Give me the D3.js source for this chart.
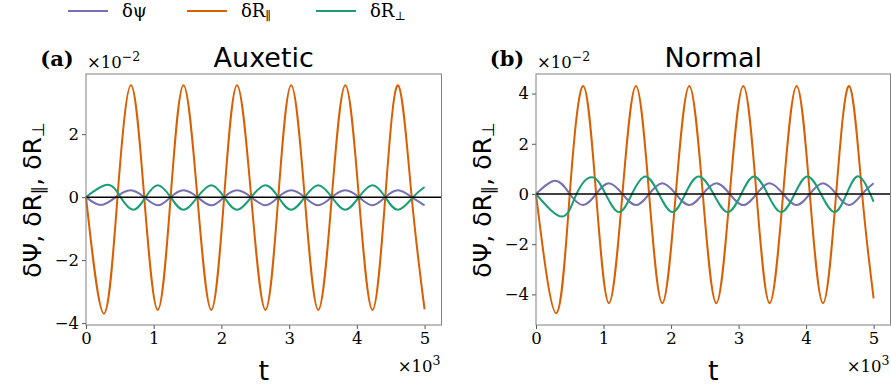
<!DOCTYPE html>
<html>
<head>
<meta charset="utf-8">
<script src="https://cdn.jsdelivr.net/npm/d3@7"></script>
<style>
  body { margin: 0; background: #fff; }
  svg { display: block; }
  .tick text { font-family: "DejaVu Serif", serif; font-size: 16.5px; fill: #000; }
  .domain { display: none; }
  .tick line { stroke: #555; }
</style>
</head>
<body>
<div id="chart"></div>
<script>
// key points (t in 10^3, values in 10^-2)
var seriesNames = ["δψ", "δR∥", "δR⊥"];
var seriesColors = ["#7570b3", "#d95f02", "#1b9e77"];

// panel (a) Auxetic
var tA = [0, 0.265, 0.465, 0.665, 0.86, 1.06, 1.25, 1.44, 1.645, 1.85, 2.04, 2.23, 2.44, 2.65, 2.84, 3.03, 3.23, 3.43, 3.63, 3.83, 4.03, 4.23, 4.42, 4.61, 4.81, 5.0];
var orangeA = [0, -3.70, 0, 3.55, 0, -3.58, 0, 3.55, 0, -3.58, 0, 3.55, 0, -3.58, 0, 3.55, 0, -3.58, 0, 3.55, 0, -3.58, 0, 3.55, 0, -3.56];
var tPsiA = [0, 0.22, 0.44, 0.655, 0.86, 1.06, 1.25, 1.44, 1.645, 1.85, 2.04, 2.23, 2.44, 2.65, 2.84, 3.03, 3.23, 3.43, 3.63, 3.83, 4.03, 4.23, 4.42, 4.61, 4.81, 5.0];
var psiA = [0, -0.25, 0, 0.22, 0, -0.26, 0, 0.22, 0, -0.26, 0, 0.22, 0, -0.26, 0, 0.22, 0, -0.26, 0, 0.22, 0, -0.26, 0, 0.22, 0, -0.26];
var tPerpA = [0, 0.32, 0.51, 0.70, 0.88, 1.06, 1.25, 1.44, 1.645, 1.85, 2.04, 2.23, 2.44, 2.65, 2.84, 3.03, 3.23, 3.43, 3.63, 3.83, 4.03, 4.23, 4.42, 4.61, 4.83, 5.0];
var perpA = [0, 0.39, 0, -0.40, 0, 0.38, 0, -0.40, 0, 0.38, 0, -0.40, 0, 0.38, 0, -0.40, 0, 0.38, 0, -0.40, 0, 0.38, 0, -0.40, 0, 0.32];

// panel (b) Normal
var tB = [0, 0.30, 0.50, 0.70, 0.89, 1.08, 1.28, 1.48, 1.675, 1.87, 2.07, 2.27, 2.47, 2.67, 2.87, 3.07, 3.265, 3.46, 3.66, 3.86, 4.055, 4.25, 4.445, 4.64, 4.83, 5.0];
var orangeB = [0, -4.75, 0, 4.30, 0, -4.35, 0, 4.30, 0, -4.35, 0, 4.30, 0, -4.35, 0, 4.30, 0, -4.35, 0, 4.30, 0, -4.35, 0, 4.30, 0, -4.16];
var tPsiB = [0, 0.29, 0.50, 0.70, 0.89, 1.08, 1.28, 1.48, 1.675, 1.87, 2.07, 2.27, 2.47, 2.67, 2.87, 3.07, 3.265, 3.46, 3.66, 3.86, 4.055, 4.25, 4.445, 4.64, 4.83, 5.0];
var psiB = [0, 0.53, 0, -0.44, 0, 0.43, 0, -0.44, 0, 0.43, 0, -0.44, 0, 0.43, 0, -0.44, 0, 0.43, 0, -0.44, 0, 0.43, 0, -0.44, 0, 0.43];
var tPerpB = [0, 0.39, 0.60, 0.83, 1.03, 1.23, 1.42, 1.62, 1.82, 2.02, 2.21, 2.41, 2.63, 2.84, 3.04, 3.23, 3.43, 3.63, 3.83, 4.02, 4.22, 4.42, 4.60, 4.78, 4.95, 5.0];
var perpB = [0, -0.90, 0, 0.67, 0, -0.72, 0, 0.70, 0, -0.72, 0, 0.70, 0, -0.72, 0, 0.70, 0, -0.72, 0, 0.70, 0, -0.72, 0, 0.70, 0, -0.31];

var xTicks = [0, 1, 2, 3, 4, 5];
var yTicksA = [-4, -2, 0, 2];
var yTicksB = [-4, -2, 0, 2, 4];

var W = 891, H = 386;
var svg = d3.select("#chart").append("svg").attr("width", W).attr("height", H)
    .style("font-family", "DejaVu Sans, sans-serif");

function zip(ts, vs) {
    return ts.map(function(t, i) { return [t, vs[i]]; });
}

function drawPanel(spec) {
    var x = d3.scaleLinear().domain([0, 5.25]).range([spec.x0, spec.x1]);
    var y = d3.scaleLinear().domain(spec.yDomain).range([325, 74]);
    var g = svg.append("g");

    g.append("g").attr("transform", "translate(0,325)")
        .call(d3.axisBottom(x).tickValues(xTicks).tickFormat(d3.format("d")).tickSize(4).tickPadding(3));
    g.append("g").attr("transform", "translate(" + spec.x0 + ",0)")
        .call(d3.axisLeft(y).tickValues(spec.yTicks).tickFormat(d3.format("d")).tickSize(4).tickPadding(3));

    var line = d3.line().x(function(d) { return x(d[0]); }).y(function(d) { return y(d[1]); })
        .curve(d3.curveNatural);

    spec.series.forEach(function(s, k) {
        g.append("path").datum(s).attr("d", line)
            .attr("fill", "none").attr("stroke", seriesColors[k]).attr("stroke-width", 2);
    });

    g.append("line").attr("x1", spec.x0).attr("x2", spec.x1).attr("y1", y(0)).attr("y2", y(0))
        .attr("stroke", "#000").attr("stroke-width", 1.5);

    g.append("rect").attr("x", spec.x0).attr("y", 74).attr("width", spec.x1 - spec.x0).attr("height", 251)
        .attr("fill", "none").attr("stroke", "#808080").attr("stroke-width", 1);

    var cx = (spec.x0 + spec.x1) / 2;
    g.append("text").attr("x", cx).attr("y", 67).attr("text-anchor", "middle")
        .attr("font-size", 27).text(spec.title);
    g.append("text").attr("x", spec.x0 - 29).attr("y", 66).attr("text-anchor", "middle")
        .attr("font-family", "DejaVu Serif, serif").attr("font-weight", "bold").attr("font-size", 21)
        .text(spec.tag);

    var off = g.append("text").attr("x", spec.x0 + 1).attr("y", 68)
        .attr("font-family", "DejaVu Serif, serif").attr("font-size", 16.5);
    off.append("tspan").text("×10");
    off.append("tspan").attr("dy", -7).attr("font-size", 12.5).text("−2");

    var off3 = g.append("text").attr("x", spec.x1 - 1).attr("y", 372).attr("text-anchor", "end")
        .attr("font-family", "DejaVu Serif, serif").attr("font-size", 16.5);
    off3.append("tspan").text("×10");
    off3.append("tspan").attr("dy", -7).attr("font-size", 12.5).text("3");

    g.append("text").attr("x", cx).attr("y", 380).attr("text-anchor", "middle")
        .attr("font-size", 27).text("t");

    var yl = g.append("text").attr("transform", "translate(" + spec.yLabelX + ",200) rotate(-90)")
        .attr("text-anchor", "middle").attr("font-size", 25);
    yl.append("tspan").text("δΨ, δR");
    yl.append("tspan").attr("font-size", 17).attr("dy", 3).text("∥");
    yl.append("tspan").attr("dy", -3).text(", δR");
    yl.append("tspan").attr("font-size", 17).attr("dy", 3).text("⊥");
}

drawPanel({
    x0: 86, x1: 441.5, yDomain: [-4.06, 3.91], yTicks: yTicksA, title: "Auxetic", tag: "(a)", yLabelX: 41,
    series: [zip(tPsiA, psiA), zip(tA, orangeA), zip(tPerpA, perpA)]
});
drawPanel({
    x0: 536, x1: 890.5, yDomain: [-5.22, 4.78], yTicks: yTicksB, title: "Normal", tag: "(b)", yLabelX: 491,
    series: [zip(tPsiB, psiB), zip(tB, orangeB), zip(tPerpB, perpB)]
});

// legend
var legendX = [68, 187, 316];
var legend = svg.append("g");
seriesNames.forEach(function(name, i) {
    legend.append("line").attr("x1", legendX[i]).attr("x2", legendX[i] + 40).attr("y1", 11).attr("y2", 11)
        .attr("stroke", seriesColors[i]).attr("stroke-width", 2);
    var t = legend.append("text").attr("x", legendX[i] + 54).attr("y", 17)
        .attr("font-family", "DejaVu Serif, serif").attr("font-size", 18);
    t.append("tspan").text(name.slice(0, name.length - (i === 0 ? 0 : 1)));
    if (i > 0) t.append("tspan").attr("font-size", 12).attr("dy", 3).text(name.slice(-1));
});
</script>
</body>
</html>
